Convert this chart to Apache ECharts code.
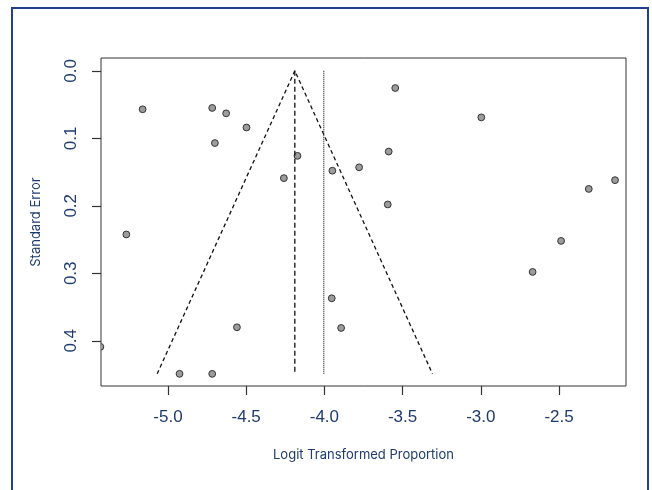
<!DOCTYPE html>
<html>
<head>
<meta charset="utf-8">
<script src="https://cdn.jsdelivr.net/npm/echarts@6/dist/echarts.min.js"></script>
<style>
html,body{margin:0;padding:0;background:#fff;}
#chart{width:652px;height:490px;}
</style>
</head>
<body>
<div id="chart"></div>
<script>
// Study estimates: logit transformed proportion (x) and standard error (y)
const logitValues = [-5.162, -4.717, -4.628, -4.498, -4.700, -4.172, -4.259, -5.266,
  -3.547, -2.997, -3.589, -3.778, -3.949, -3.595, -2.142, -2.310, -2.487, -2.669,
  -3.953, -3.893, -4.559, -4.926, -4.717, -5.432];
const seValues = [0.057, 0.055, 0.063, 0.084, 0.107, 0.126, 0.159, 0.2425,
  0.0255, 0.069, 0.1196, 0.143, 0.148, 0.198, 0.162, 0.175, 0.252, 0.298,
  0.337, 0.381, 0.380, 0.449, 0.449, 0.409];
// Funnel (pseudo confidence region) outline
const funnelX = [-5.069, -4.189, -3.309];
const funnelY = [0.449, 0, 0.449];
// Pooled estimates: fixed effect (dashed) and random effects (dotted)
const fixedLineX = [-4.189, -4.189];
const fixedLineY = [0, 0.449];
const randomLineX = [-4.004, -4.004];
const randomLineY = [0, 0.449];
// Tick labels
const xTicks = [-5.0, -4.5, -4.0, -3.5, -3.0, -2.5];
const yTicks = [0.0, 0.1, 0.2, 0.3, 0.4];

const pts = logitValues.map((v, i) => [v, seValues[i]]);
const zip = (a, b) => a.map((v, i) => [v, b[i]]);

const textColor = '#1e3a6e';
const chart = echarts.init(document.getElementById('chart'), null, {renderer: 'canvas'});
chart.setOption({
  backgroundColor: '#ffffff',
  animation: false,
  graphic: [{
    type: 'rect',
    shape: {x: 12, y: 8, width: 636, height: 500},
    style: {fill: 'none', stroke: '#23408e', lineWidth: 2},
    silent: true
  }],
  grid: {left: 101, right: 26, top: 58, bottom: 104, show: true, borderColor: '#333', borderWidth: 1, backgroundColor: 'transparent'},
  xAxis: {
    type: 'value', min: -5.428, max: -2.072, position: 'bottom',
    name: 'Logit Transformed Proportion', nameLocation: 'middle', nameGap: 63,
    nameTextStyle: {color: textColor, fontSize: 13, fontFamily: 'Inter'},
    axisLine: {show: false, onZero: false},
    splitLine: {show: false},
    axisTick: {show: true, customValues: xTicks, length: 9, lineStyle: {color: '#333', width: 1.2}},
    axisLabel: {customValues: xTicks, margin: 23, color: textColor, fontSize: 17, fontFamily: 'Liberation Sans',
      formatter: v => v.toFixed(1)}
  },
  yAxis: {
    type: 'value', inverse: true, min: -0.019, max: 0.467, position: 'left',
    name: 'Standard Error', nameLocation: 'middle', nameGap: 58, nameRotate: 90,
    nameTextStyle: {color: textColor, fontSize: 13, fontFamily: 'Inter'},
    axisLine: {show: false, onZero: false},
    splitLine: {show: false},
    axisTick: {show: true, customValues: yTicks, length: 9, lineStyle: {color: '#333', width: 1.2}},
    axisLabel: {customValues: yTicks, rotate: 90, margin: 21, color: textColor, fontSize: 17, fontFamily: 'Liberation Sans',
      formatter: v => v.toFixed(1)}
  },
  series: [
    {type: 'line', data: zip(funnelX, funnelY), symbol: 'none', silent: true,
      lineStyle: {color: '#111', width: 1.3, type: [4, 3]}},
    {type: 'line', data: zip(fixedLineX, fixedLineY), symbol: 'none', silent: true,
      lineStyle: {color: '#111', width: 1.3, type: [5, 3]}},
    {type: 'line', data: zip(randomLineX, randomLineY), symbol: 'none', silent: true,
      lineStyle: {color: '#222', width: 1.2, type: [1, 1]}},
    {type: 'custom', clip: true, data: pts,
      renderItem: function (params, api) {
        const c = api.coord([api.value(0), api.value(1)]);
        return {type: 'circle', shape: {cx: c[0], cy: c[1], r: 3.4},
          style: {fill: '#9c9c9c', stroke: '#333', lineWidth: 1}};
      }}
  ]
});
</script>
</body>
</html>
